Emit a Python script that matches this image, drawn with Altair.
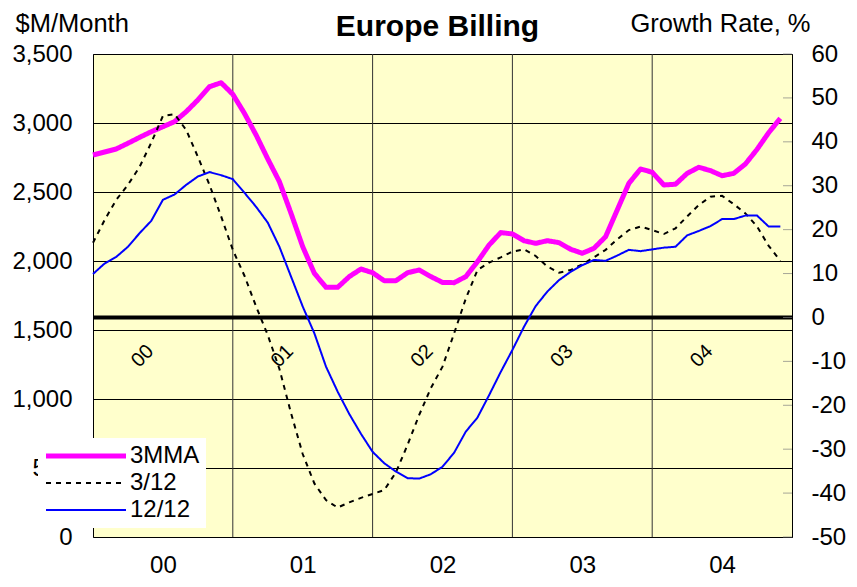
import altair as alt
import pandas as pd

# ---------------- data ----------------
years = ["00", "01", "02", "03", "04"]
months = list(range(60))
series = ["3MMA", "3/12", "12/12"]

mma3 = [2768, 2790, 2812, 2853, 2896, 2937, 2973, 3010, 3082, 3167,
        3263, 3292, 3208, 3070, 2913, 2740, 2575, 2345, 2104, 1911,
        1809, 1809, 1887, 1942, 1915, 1857, 1857, 1915, 1935, 1887,
        1845, 1843, 1887, 1995, 2116, 2206, 2196, 2147, 2128, 2147,
        2133, 2085, 2056, 2092, 2176, 2370, 2563, 2667, 2643, 2551,
        2556, 2635, 2679, 2655, 2618, 2635, 2703, 2809, 2930, 3034]

g3_12 = [17.0, 22.2, 26.8, 30.2, 34.3, 39.8, 45.9, 46.3, 42.7, 36.6,
         30.2, 23.0, 15.4, 9.5, 2.5, -4.0, -11.7, -21.8, -31.1, -37.8,
         -41.6, -43.3, -42.1, -41.1, -40.2, -39.3, -35.3, -29.0, -22.2, -16.1,
         -11.2, -3.6, 4.3, 10.8, 12.5, 13.7, 15.0, 15.5, 14.0, 11.6,
         10.2, 10.8, 12.1, 13.7, 15.4, 17.8, 19.9, 20.7, 19.9, 19.0,
         20.3, 23.0, 25.6, 27.5, 27.7, 25.8, 23.7, 20.7, 16.3, 12.9]

g12_12 = [9.9, 12.3, 13.8, 16.1, 19.2, 22.0, 26.8, 28.0, 30.2, 32.1,
          33.1, 32.4, 31.5, 28.4, 25.2, 21.6, 16.1, 9.3, 2.5, -3.6,
          -11.2, -16.9, -22.0, -26.5, -30.6, -33.2, -35.1, -36.6, -36.7, -35.7,
          -34.0, -30.8, -26.0, -22.8, -17.7, -12.4, -7.4, -2.1, 2.6, 5.9,
          8.5, 10.4, 11.9, 13.1, 12.9, 14.1, 15.4, 15.1, 15.5, 15.9,
          16.1, 18.7, 19.7, 20.8, 22.4, 22.4, 23.2, 23.2, 20.7, 20.7]

left_ticks = [0, 500, 1000, 1500, 2000, 2500, 3000, 3500]
right_ticks = [-50, -40, -30, -20, -10, 0, 10, 20, 30, 40, 50, 60]

# ---------------- frames ----------------
df_mma = pd.DataFrame({"m": months, "v": mma3, "s": "3MMA"})
df_g = pd.concat([
    pd.DataFrame({"m": months, "v": g3_12, "s": "3/12"}),
    pd.DataFrame({"m": months, "v": g12_12, "s": "12/12"}),
])
df_bounds = pd.DataFrame({"m": [12 * k for k in range(1, len(years))]})
df_years = pd.DataFrame({"m": [12 * k + 4.25 for k in range(len(years))],
                         "v": [-8.8] * len(years), "t": years})
df_rt = pd.DataFrame({"v": right_ticks})
df_zero = pd.DataFrame({"v": [0]})

FONT = "Liberation Sans"
W, H = 699, 483

label_expr = "[" + ",".join("'%s'" % y for y in years) + "][floor(datum.value / 12)]"

x_scale = alt.Scale(domain=[0, 60], nice=False, zero=False)
x_axis = alt.Axis(values=[12 * k + 6 for k in range(len(years))], labelExpr=label_expr,
                  grid=False, ticks=False, tickSize=0, domain=False, title=None,
                  labelFontSize=24, labelPadding=16, labelFont=FONT, labelColor="black")

def X():
    return alt.X("m:Q", scale=x_scale, axis=x_axis)

color_scale = alt.Scale(domain=series, range=["#FF00FF", "#000000", "#0000FF"])
dash_scale = alt.Scale(domain=series, range=[[1, 0], [5, 5], [1, 0]])

legend = alt.Legend(
    orient="none", legendX=-55, legendY=384, fillColor="white", title=None,
    symbolType="stroke", symbolSize=6400,
    symbolStrokeWidth=alt.ExprRef(expr="datum.value === '3MMA' ? 5 : 2"),
    labelFontSize=24, labelFont=FONT, labelColor="black",
    padding=6, rowPadding=3, symbolOffset=30, labelOffset=32,
)

# ---------------- left ($M) layer ----------------
left_scale = alt.Scale(domain=[0, 3500], nice=False, zero=False)
left_axis = alt.Axis(orient="left", values=left_ticks, format=",.0f",
                     grid=True, gridColor="black", gridWidth=1, gridOpacity=1,
                     ticks=False, tickSize=0, domain=False,
                     labelFontSize=24, labelPadding=21, labelFont=FONT, labelColor="black",
                     title="$M/Month", titleAngle=0, titleX=-78, titleY=-23,
                     titleAlign="left", titleBaseline="alphabetic",
                     titleFontSize=25.5, titleFontWeight="normal", titleFont=FONT,
                     titleColor="black")

vrules = alt.Chart(df_bounds).mark_rule(color="#333333", strokeWidth=1).encode(x=X())

mma_line = alt.Chart(df_mma).mark_line(strokeWidth=5, strokeJoin="round").encode(
    x=X(),
    y=alt.Y("v:Q", scale=left_scale, axis=left_axis),
    color=alt.Color("s:N", scale=color_scale, legend=legend),
    strokeDash=alt.StrokeDash("s:N", scale=dash_scale, legend=legend),
)

left = alt.layer(vrules, mma_line)

# ---------------- right (growth %) layer ----------------
g_scale = alt.Scale(domain=[-50, 60], nice=False, zero=False)
right_axis = alt.Axis(orient="right", values=right_ticks, grid=False,
                      labelExpr="datum.value < 0 ? '-' + abs(datum.value) : '' + datum.value",
                      ticks=False, tickSize=0, domain=False,
                      labelFontSize=24, labelPadding=19, labelFont=FONT, labelColor="black",
                      title="Growth Rate, %", titleAngle=0, titleX=-162, titleY=-23,
                      titleAlign="left", titleBaseline="alphabetic",
                      titleFontSize=25.5, titleFontWeight="normal", titleFont=FONT,
                      titleColor="black")

def Yg():
    return alt.Y("v:Q", scale=g_scale, axis=right_axis)

zero_rule = alt.Chart(df_zero).mark_rule(color="black", strokeWidth=4).encode(y=Yg())

rticks = alt.Chart(df_rt).mark_tick(color="#808080", size=9, thickness=1, orient="horizontal").encode(
    y=Yg(),
    x=alt.value(W - 4.5),
)

g_lines = alt.Chart(df_g).mark_line(strokeWidth=2).encode(
    x=X(),
    y=Yg(),
    color=alt.Color("s:N", scale=color_scale, legend=legend),
    strokeDash=alt.StrokeDash("s:N", scale=dash_scale, legend=legend),
    detail="s:N",
)

year_text = alt.Chart(df_years).mark_text(angle=315, fontSize=20, font=FONT, color="black",
                                          align="center", baseline="middle").encode(
    x=X(),
    y=Yg(),
    text="t:N",
)

right = alt.layer(zero_rule, rticks, g_lines, year_text)

chart = alt.layer(left, right).resolve_scale(y="independent").properties(
    width=W, height=H,
    autosize=alt.AutoSizeParams(type="none"),
    padding={"left": 85, "top": 46, "right": 57, "bottom": 42},
    title=alt.TitleParams("Europe Billing", fontSize=30, font=FONT, fontWeight="bold",
                          anchor="middle", frame="group", color="black", dx=-5, dy=35),
    background="white",
).configure_view(fill="#FFFFCC", stroke="black", strokeWidth=1)

chart.save("out.html", embed_options={"renderer": "svg", "actions": False})
